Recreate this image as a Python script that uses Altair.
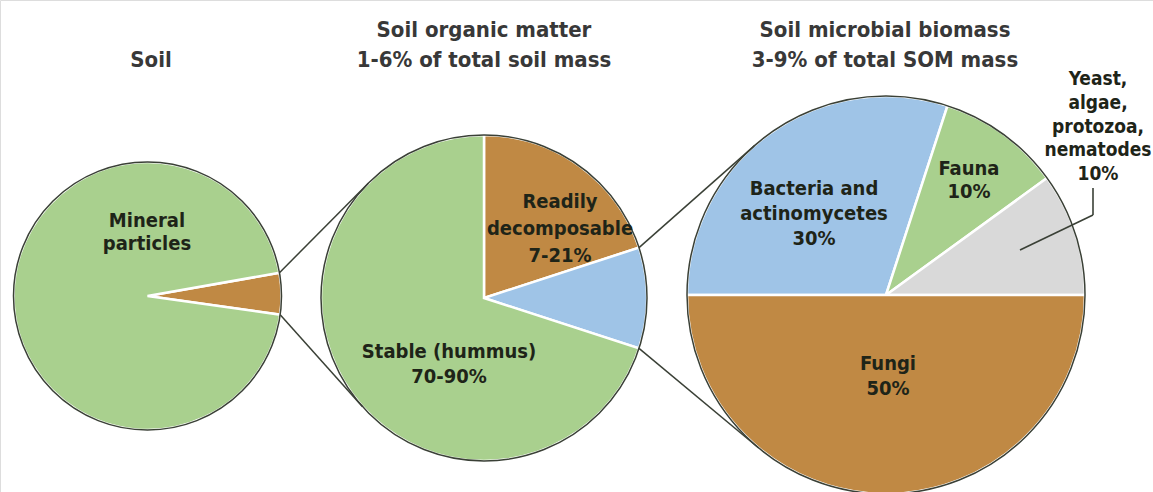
import math
import altair as alt
import pandas as pd

# ---------------- data ----------------
SOIL_PARTS = ["Soil organic matter", "Mineral particles"]
SOIL_PCT = [5, 95]

SOM_PARTS = ["Readily decomposable", "Soil microbial biomass", "Stable (hummus)"]
SOM_PCT = [20, 10, 70]

MICROBE_PARTS = ["Bacteria and actinomycetes", "Fauna",
                 "Yeast, algae, protozoa, nematodes", "Fungi"]
MICROBE_PCT = [30, 10, 10, 50]

TITLE_SOIL = ["Soil"]
TITLE_SOM = ["Soil organic matter", "1-6% of total soil mass"]
TITLE_MICROBE = ["Soil microbial biomass", "3-9% of total SOM mass"]

LBL_MINERAL = ["Mineral", "particles"]
LBL_READILY = ["Readily", "decomposable", "7-21%"]
LBL_STABLE = ["Stable (hummus)", "70-90%"]
LBL_BACTERIA = ["Bacteria and", "actinomycetes", "30%"]
LBL_FAUNA = ["Fauna", "10%"]
LBL_YEAST = ["Yeast,", "algae,", "protozoa,", "nematodes", "10%"]
LBL_FUNGI = ["Fungi", "50%"]

# ---------------- style / layout ----------------
W, H = 1153, 492
GREEN = "#a9d08e"
BROWN = "#c08944"
BLUE = "#9fc4e7"
GRAY = "#d9d9d9"
OUTLINE = "#3a4036"
TITLE_C = "#383838"
LABEL_C = "#1e2418"
FONT = "DejaVu Sans Condensed, sans-serif"

C1, R1, S1 = (147.5, 296.0), 134, 80.0
C2, R2, S2 = (484.0, 298.0), 163, 0.0
C3, R3, S3 = (886.0, 295.0), 199, -90.0

one = pd.DataFrame({"a": [0]})


def pie(names, values, colors, c, r, start_deg):
    df = pd.DataFrame({"part": names, "pct": values, "k": list(range(len(names)))})
    s = math.radians(start_deg)
    return alt.Chart(df).mark_arc(radius=r, stroke="white", strokeWidth=2.5).encode(
        theta=alt.Theta("pct:Q", stack=True, scale=alt.Scale(range=[s, s + 2 * math.pi])),
        color=alt.Color("part:N", scale=alt.Scale(domain=names, range=colors), legend=None),
        order=alt.Order("k:Q"),
        x=alt.value(c[0]),
        y=alt.value(c[1]),
    )


def outline(c, r):
    return alt.Chart(one).mark_arc(
        radius=r, theta=0, theta2=2 * math.pi, fillOpacity=0,
        stroke=OUTLINE, strokeWidth=1.5,
    ).encode(x=alt.value(c[0]), y=alt.value(c[1]))


def pt(c, r, deg):
    a = math.radians(deg)
    return (c[0] + r * math.sin(a), c[1] - r * math.cos(a))


def tangent(p, c, r, upper):
    dx, dy = p[0] - c[0], p[1] - c[1]
    d = math.hypot(dx, dy)
    phi = math.atan2(dy, dx)
    al = math.acos(r / d)
    cands = [(c[0] + r * math.cos(phi + s * al), c[1] + r * math.sin(phi + s * al)) for s in (1, -1)]
    cands.sort(key=lambda q: q[1])
    return cands[0] if upper else cands[1]


def rule(p, q, color=OUTLINE, w=1.5):
    return alt.Chart(one).mark_rule(color=color, strokeWidth=w).encode(
        x=alt.value(p[0]), y=alt.value(p[1]), x2=alt.value(q[0]), y2=alt.value(q[1])
    )


def text(lines, x, y, size=20, lh=24, color=LABEL_C):
    return alt.Chart(one).mark_text(
        text=lines, align="center", baseline="alphabetic", font=FONT,
        fontWeight="bold", fontSize=size, lineHeight=lh, color=color,
    ).encode(x=alt.value(x), y=alt.value(y))


# connector lines (from slice boundaries, tangent to next pie)
a0 = S1
a1 = S1 + SOIL_PCT[0] / sum(SOIL_PCT) * 360
p_up, p_lo = pt(C1, R1, a0), pt(C1, R1, a1)
b0 = S2 + SOM_PCT[0] / sum(SOM_PCT) * 360
b1 = b0 + SOM_PCT[1] / sum(SOM_PCT) * 360
q_up, q_lo = pt(C2, R2, b0), pt(C2, R2, b1)

layers = [
    pie(SOIL_PARTS, SOIL_PCT, [BROWN, GREEN], C1, R1, S1),
    outline(C1, R1),
    pie(SOM_PARTS, SOM_PCT, [BROWN, BLUE, GREEN], C2, R2, S2),
    outline(C2, R2),
    pie(MICROBE_PARTS, MICROBE_PCT, [BLUE, GREEN, GRAY, BROWN], C3, R3, S3),
    outline(C3, R3),
    rule(p_up, tangent(p_up, C2, R2, True)),
    rule(p_lo, tangent(p_lo, C2, R2, False)),
    rule(q_up, tangent(q_up, C3, R3, True)),
    rule(q_lo, tangent(q_lo, C3, R3, False)),
    # leader for yeast label
    rule((1020, 250), (1093, 215), w=1.6),
    rule((1093, 215), (1093, 188), w=1.6),
    text(TITLE_SOIL, 151, 67, size=22, color=TITLE_C),
    text(TITLE_SOM, 484, 37, size=22, lh=30, color=TITLE_C),
    text(TITLE_MICROBE, 885, 37, size=22, lh=30, color=TITLE_C),
    text(LBL_MINERAL, 147, 227, lh=23),
    text(LBL_READILY, 560, 208, lh=27),
    text(LBL_STABLE, 449, 358, lh=25),
    text(LBL_BACTERIA, 814, 195, lh=25),
    text(LBL_FAUNA, 969, 175, lh=23),
    text(LBL_YEAST, 1098, 85, size=19, lh=23.75),
    text(LBL_FUNGI, 888, 370, lh=25),
]

chart = (
    alt.layer(*layers)
    .resolve_scale(theta="independent", color="independent")
    .properties(width=W, height=H, padding=0, autosize="none")
    .configure_view(stroke="transparent", strokeWidth=0)
    .configure(background="white")
)

chart.save("out.html", embed_options={"renderer": "svg", "actions": False})
